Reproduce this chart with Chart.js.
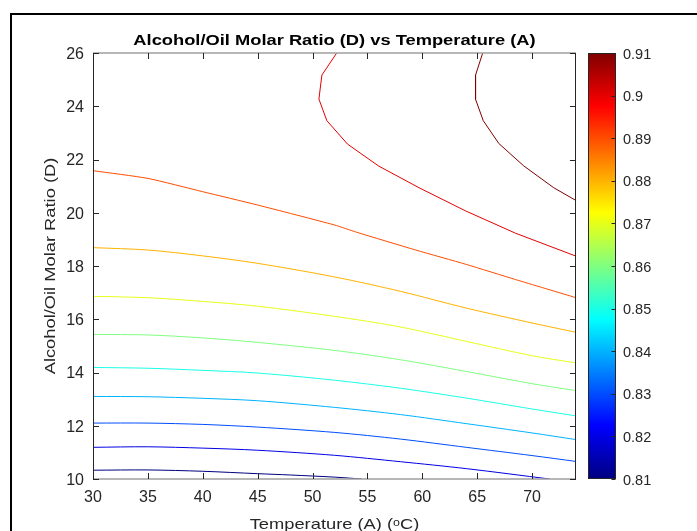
<!DOCTYPE html>
<html><head><meta charset="utf-8">
<script src="https://cdn.jsdelivr.net/npm/chart.js@4.4.1/dist/chart.umd.min.js"></script>
<style>html,body{margin:0;padding:0;background:#fff;overflow:hidden}#wrap{width:697px;height:531px;position:relative}</style>
</head><body><div id="wrap"><canvas id="c" width="697" height="531"></canvas></div>
<script>
// ---- data ----
const xTicks = [30, 35, 40, 45, 50, 55, 60, 65, 70];
const yTicks = [10, 12, 14, 16, 18, 20, 22, 24, 26];
const cbTicks = [0.81, 0.82, 0.83, 0.84, 0.85, 0.86, 0.87, 0.88, 0.89, 0.9, 0.91];
const levels = [0.81, 0.82, 0.83, 0.84, 0.85, 0.86, 0.87, 0.88, 0.89, 0.90, 0.91];

const level081 = [[30,10.33],[35,10.34],[40,10.29],[45,10.20],[48,10.15],[52,10.07],[54.5,10.0]];
const level082 = [[30,11.19],[35,11.21],[40,11.16],[45,11.08],[52,10.89],[58,10.65],[64,10.39],[71.6,10.0]];
const level083 = [[30,12.10],[35,12.10],[40,12.05],[45,11.95],[52,11.75],[58,11.50],[64,11.19],[70,10.88],[74,10.66]];
const level084 = [[30,13.10],[35,13.09],[40,13.03],[45,12.94],[52,12.69],[58,12.42],[64,12.08],[70,11.73],[74,11.48]];
const level085 = [[30,14.19],[35,14.16],[40,14.08],[45,13.98],[52,13.71],[58,13.41],[64,13.04],[70,12.63],[74,12.37]];
const level086 = [[30,15.43],[35,15.41],[40,15.30],[45,15.13],[52,14.83],[58,14.48],[64,14.04],[70,13.58],[74,13.32]];
const level087 = [[30,16.86],[35,16.81],[40,16.67],[45,16.49],[52,16.11],[58,15.71],[64,15.17],[70,14.63],[74,14.36]];
const level088 = [[30,18.69],[35,18.60],[40,18.38],[45,18.10],[52,17.59],[58,17.05],[64,16.42],[70,15.86],[74,15.51]];
const level089 = [[30,21.58],[35,21.29],[40,20.79],[45,20.29],[52,19.54],[54,19.27],[59.4,18.60],[64,18.06],[68.5,17.49],[74,16.81]];
const level090 = [[52.2,26],[50.85,25.17],[50.58,24.27],[51.3,23.46],[53.18,22.58],[56,21.76],[59.7,20.94],[63.94,20.07],[68.5,19.23],[74,18.37]];
const level091 = [[65.5,26],[64.85,25.17],[64.85,24.26],[65.55,23.46],[66.97,22.60],[69.24,21.76],[71.97,20.94],[74,20.46]];

// ---- styles ----
const contourLines = [level081, level082, level083, level084, level085, level086, level087, level088, level089, level090, level091];
const lineColors = ['#000080','#0000e6','#004dff','#00b3ff','#1affe6','#80ff80','#e6ff1a','#ffb300','#ff4d00','#e60000','#800000'];
const smooth = [0.3,0.3,0.3,0.3,0.3,0.3,0.3,0.3,0.2,0,0];
const FONT = "'Liberation Sans', Arial, 'DejaVu Sans', sans-serif";
const TXT = '#262626';
const STRETCH = 1.22;

const datasets = contourLines.map((pts, i) => ({
  label: String(levels[i]),
  data: pts.map(p => ({x: p[0], y: p[1]})),
  borderColor: lineColors[i],
  backgroundColor: lineColors[i],
  borderWidth: 1,
  showLine: true,
  pointRadius: 0,
  tension: smooth[i],
  fill: false
}));

const framePlugin = {
  id: 'frame',
  beforeDraw(chart) {
    const ctx = chart.ctx;
    ctx.save();
    ctx.fillStyle = '#fff';
    ctx.fillRect(0, 0, chart.width, chart.height);
    ctx.fillStyle = '#000';
    ctx.fillRect(10, 13, chart.width, 2);
    ctx.fillRect(10, 13, 2, chart.height);
    ctx.restore();
  }
};

// widen the titles along their reading direction, as in the reference
const stretchPlugin = {
  id: 'stretch',
  afterLayout(chart) {
    const wrap = (obj, fnName, getTransform) => {
      if (!obj || obj['_wrapped_' + fnName]) return;
      obj['_wrapped_' + fnName] = true;
      const orig = obj[fnName];
      obj[fnName] = function (...args) {
        const ctx = chart.ctx;
        const t = getTransform(this);
        ctx.save();
        ctx.translate(t.cx, t.cy);
        ctx.scale(t.sx, t.sy);
        ctx.translate(-t.cx, -t.cy);
        const r = orig.apply(this, args);
        ctx.restore();
        return r;
      };
    };
    wrap(chart.scales.x, 'drawTitle', s => ({ cx: (s.left + s.right) / 2, cy: 0, sx: STRETCH, sy: 1 }));
    wrap(chart.scales.y, 'drawTitle', s => ({ cx: 0, cy: (s.top + s.bottom) / 2, sx: 1, sy: STRETCH }));
    wrap(chart.titleBlock, 'draw', b => ({ cx: (b.left + b.right) / 2, cy: 0, sx: STRETCH, sy: 1 }));
  }
};

const axesPlugin = {
  id: 'axesBox',
  afterDatasetsDraw(chart) {
    const {ctx, chartArea: a, scales} = chart;
    const L = a.left, R = a.right, T = a.top, B = a.bottom;
    ctx.save();
    ctx.strokeStyle = '#a0a0a0';
    ctx.lineWidth = 1.5;
    ctx.beginPath();
    ctx.moveTo(L, T); ctx.lineTo(R, T);
    ctx.moveTo(L, B); ctx.lineTo(R, B);
    ctx.stroke();
    ctx.strokeStyle = TXT;
    ctx.lineWidth = 1;
    ctx.beginPath();
    ctx.moveTo(L + 0.5, T); ctx.lineTo(L + 0.5, B);
    ctx.moveTo(R - 0.5, T); ctx.lineTo(R - 0.5, B);
    const tl = 6;
    xTicks.forEach(v => {
      const px = Math.round(scales.x.getPixelForValue(v)) + 0.5;
      ctx.moveTo(px, B); ctx.lineTo(px, B - tl);
      ctx.moveTo(px, T); ctx.lineTo(px, T + tl);
    });
    yTicks.forEach(v => {
      const py = Math.round(scales.y.getPixelForValue(v)) + 0.5;
      ctx.moveTo(L, py); ctx.lineTo(L + tl, py);
      ctx.moveTo(R, py); ctx.lineTo(R - tl, py);
    });
    ctx.stroke();

    // colorbar
    const cb = scales.cb;
    const y0 = cb.getPixelForValue(cbTicks[0]);
    const y1 = cb.getPixelForValue(cbTicks[cbTicks.length - 1]);
    const bx0 = 588, bx1 = 616;
    const g = ctx.createLinearGradient(0, y0, 0, y1);
    g.addColorStop(0, '#000080');
    g.addColorStop(0.125, '#0000ff');
    g.addColorStop(0.375, '#00ffff');
    g.addColorStop(0.625, '#ffff00');
    g.addColorStop(0.875, '#ff0000');
    g.addColorStop(1, '#800000');
    ctx.fillStyle = g;
    ctx.fillRect(bx0, y1, bx1 - bx0, y0 - y1);
    ctx.strokeStyle = TXT;
    ctx.lineWidth = 1;
    ctx.strokeRect(bx0 + 0.5, y1 + 0.5, bx1 - bx0 - 1, y0 - y1 - 1);
    ctx.beginPath();
    cbTicks.forEach(v => {
      const py = Math.round(cb.getPixelForValue(v)) + 0.5;
      ctx.moveTo(bx1 - 0.5, py); ctx.lineTo(bx1 - 4.5, py);
    });
    ctx.stroke();
    ctx.restore();
  }
};

new Chart(document.getElementById('c'), {
  type: 'scatter',
  data: { datasets },
  options: {
    responsive: false,
    devicePixelRatio: 1,
    animation: false,
    layout: { padding: 0 },
    plugins: {
      legend: { display: false },
      tooltip: { enabled: false },
      title: {
        display: true,
        text: 'Alcohol/Oil Molar Ratio (D) vs Temperature (A)',
        fullSize: false,
        color: '#000',
        font: { family: FONT, size: 15, weight: 'bold', lineHeight: 1.2 },
        padding: { top: 32, bottom: 3 }
      }
    },
    scales: {
      x: {
        type: 'linear', position: 'bottom', min: 30, max: 74,
        afterBuildTicks: s => { s.ticks = xTicks.map(v => ({ value: v })); },
        afterFit: s => { s.height = 52; s.paddingLeft = 0; s.paddingRight = 0; },
        grid: { display: false, drawTicks: false },
        border: { display: false },
        ticks: { padding: 9, color: TXT, font: { family: FONT, size: 16 }, maxRotation: 0, autoSkip: false },
        title: {
          display: true, text: 'Temperature (A) (ᵒC)', color: TXT,
          font: { family: FONT, size: 15, lineHeight: 1 },
          padding: { top: 0, bottom: -1 }
        }
      },
      y: {
        type: 'linear', position: 'left', min: 10, max: 26,
        afterBuildTicks: s => { s.ticks = yTicks.map(v => ({ value: v })); },
        afterFit: s => { s.width = 93; s.paddingTop = 0; s.paddingBottom = 0; },
        grid: { display: false, drawTicks: false },
        border: { display: false },
        ticks: { padding: 9, labelOffset: 1.5, color: TXT, font: { family: FONT, size: 16 }, autoSkip: false },
        title: {
          display: true, text: 'Alcohol/Oil Molar Ratio (D)', color: TXT,
          font: { family: FONT, size: 15, lineHeight: 1 },
          padding: { top: 43, bottom: 0 }
        }
      },
      cb: {
        type: 'linear', position: 'right', min: 0.81, max: 0.91,
        afterBuildTicks: s => { s.ticks = cbTicks.map(v => ({ value: v })); },
        afterFit: s => { s.width = 121; s.paddingTop = 0; s.paddingBottom = 0; },
        grid: { display: false, drawTicks: false },
        border: { display: false },
        ticks: { padding: 47, labelOffset: 1.5, color: TXT, font: { family: FONT, size: 14.5 }, autoSkip: false,
                 callback: v => String(Math.round(v * 100) / 100) }
      }
    }
  },
  plugins: [framePlugin, stretchPlugin, axesPlugin]
});
</script>
</body></html>
